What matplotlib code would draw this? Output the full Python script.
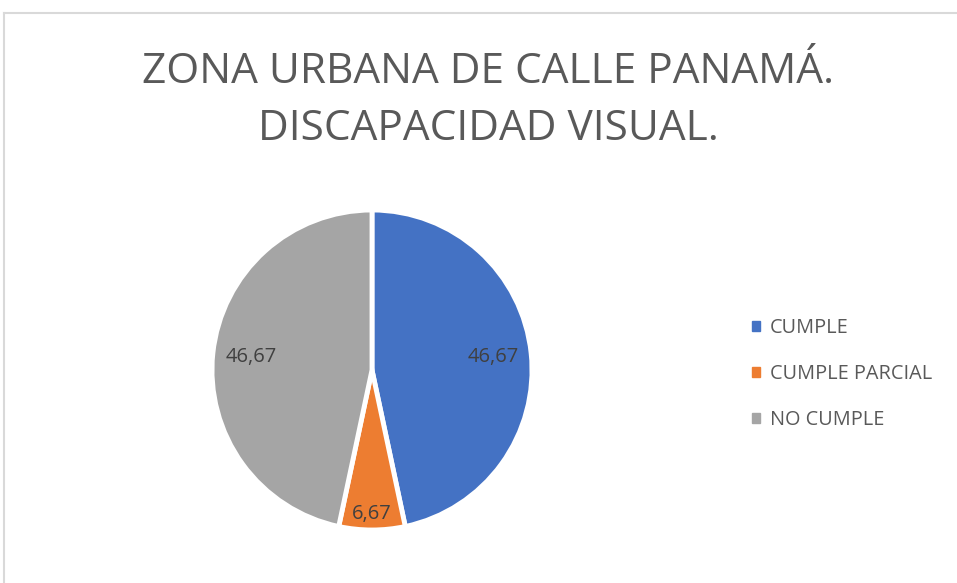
import numpy as np
import matplotlib.pyplot as plt
from matplotlib.patches import Rectangle
from matplotlib.lines import Line2D

# data
categories = ['CUMPLE', 'CUMPLE PARCIAL', 'NO CUMPLE']
values = [46.67, 6.67, 46.67]
colors = ['#4472C4', '#ED7D31', '#A5A5A5']
label_r = [0.76, 0.9, 0.76]

plt.rcParams['font.family'] = ['Open Sans', 'DejaVu Sans']

fig = plt.figure(figsize=(9.57, 5.83), dpi=100)

# chart frame (light gray border, top and left visible)
fig.add_artist(Line2D([4 / 957, 1], [1 - 13 / 583, 1 - 13 / 583], color='#D9D9D9', lw=1.5))
fig.add_artist(Line2D([4 / 957, 4 / 957], [0, 1 - 13 / 583], color='#D9D9D9', lw=1.5))

fig.text(488 / 957, 1 - 100.5 / 583, 'ZONA URBANA DE CALLE PANAMÁ.\nDISCAPACIDAD VISUAL.',
         ha='center', va='center', fontsize=30.5, color='#595959', linespacing=1.45)

# pie axes: center (372, 370), radius 160 px
r = 160
ax = fig.add_axes([(372 - r) / 957, 1 - (370 + r) / 583, 2 * r / 957, 2 * r / 583])
wedges, _ = ax.pie(values, colors=colors, startangle=90, counterclock=False,
                   wedgeprops=dict(edgecolor='white', linewidth=3.5))
ax.set_xlim(-1, 1)
ax.set_ylim(-1, 1)
ax.set_aspect('equal')

for w, v, d in zip(wedges, values, label_r):
    ang = np.deg2rad((w.theta1 + w.theta2) / 2)
    ax.text(d * np.cos(ang), d * np.sin(ang), f'{v:.2f}'.replace('.', ','),
            ha='center', va='center', fontsize=14.5, color='#404040')

# legend
handles = [Rectangle((0, 0), 1, 1, color=c) for c in colors]
fig.legend(handles, categories, loc='center left', bbox_to_anchor=(734 / 957, 1 - 374 / 583),
           frameon=False, fontsize=14.3, labelcolor='#595959', handlelength=0.4, handleheight=0.4,
           handletextpad=0.5, labelspacing=1.3)

fig.savefig('out.png', dpi=100, facecolor='white')
